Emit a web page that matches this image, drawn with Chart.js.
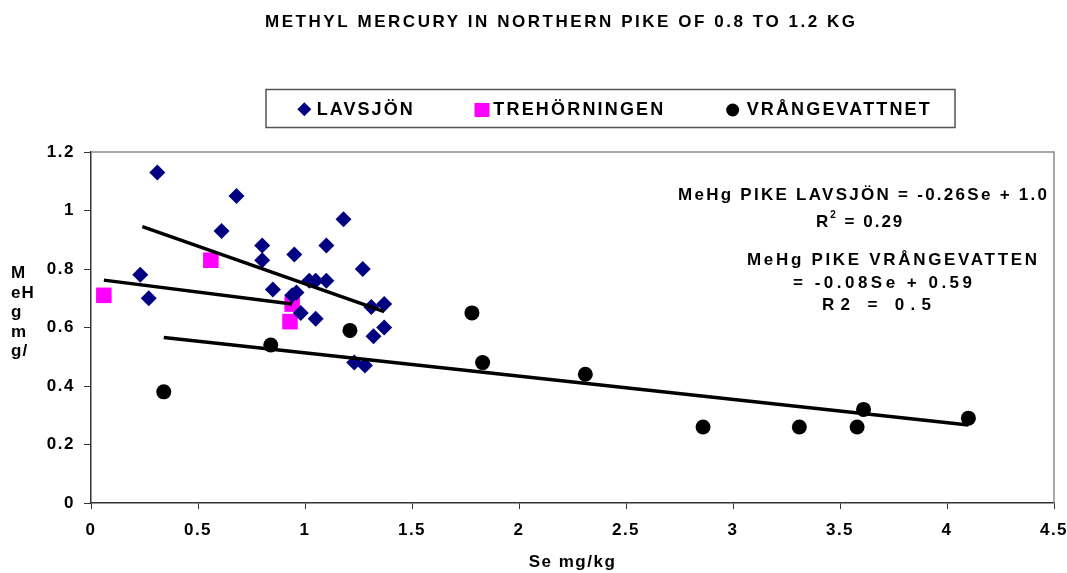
<!DOCTYPE html>
<html>
<head>
<meta charset="utf-8">
<script src="https://cdn.jsdelivr.net/npm/chart.js@4"></script>
<style>
  html, body { margin: 0; padding: 0; background: #fff; }
  #wrap { width: 1067px; height: 573px; }
</style>
</head>
<body>
<div id="wrap"><canvas id="chart" width="1067" height="573"></canvas></div>
<script>
// Data (Se mg/kg, MeHg mg/kg)
const lavsjonSe   = [0.31, 0.68, 0.61, 1.18, 0.80, 0.80, 0.95, 1.10, 1.27, 0.23, 0.27, 0.85, 0.96, 0.94, 1.02, 1.05, 1.10, 0.98, 1.05, 1.31, 1.37, 1.37, 1.32, 1.23, 1.28];
const lavsjonMeHg = [1.13, 1.05, 0.93, 0.97, 0.88, 0.83, 0.85, 0.88, 0.80, 0.78, 0.70, 0.73, 0.72, 0.71, 0.76, 0.76, 0.76, 0.65, 0.63, 0.67, 0.68, 0.60, 0.57, 0.48, 0.47];

const trehSe   = [0.06, 0.56, 0.94, 0.93];
const trehMeHg = [0.71, 0.83, 0.68, 0.62];

const vrangSe   = [0.34, 0.84, 1.21, 1.78, 1.83, 2.31, 2.86, 3.31, 3.58, 3.61, 4.10];
const vrangMeHg = [0.38, 0.54, 0.59, 0.65, 0.48, 0.44, 0.26, 0.26, 0.26, 0.32, 0.29];

// trendline end points
const lavsjonTrendSe   = [0.24, 1.37];
const lavsjonTrendMeHg = [0.945, 0.654];
const trehTrendSe      = [0.06, 0.94];
const trehTrendMeHg    = [0.762, 0.68];
const vrangTrendSe     = [0.34, 4.10];
const vrangTrendMeHg   = [0.566, 0.267];

const xTickValues = [0, 0.5, 1, 1.5, 2, 2.5, 3, 3.5, 4, 4.5];
const yTickValues = [0, 0.2, 0.4, 0.6, 0.8, 1, 1.2];

const chartTitle = 'METHYL MERCURY IN NORTHERN PIKE OF 0.8 TO 1.2 KG';
const legendNames = ['LAVSJÖN', 'TREHÖRNINGEN', 'VRÅNGEVATTNET'];
const yAxisTitle = ['M', 'eH', 'g', 'm', 'g/'];
const xAxisTitle = 'Se mg/kg';

const FONT = '"Liberation Sans", Arial, sans-serif';

function pairs(xs, ys) {
  return xs.map((x, i) => ({ x: x, y: ys[i] }));
}

// draw text stretched with letter spacing to a given visible width
function spacedText(ctx, text, x, y, width) {
  ctx.letterSpacing = '0px';
  const w = ctx.measureText(text).width;
  const sp = text.length > 1 ? (width - w) / (text.length - 1) : 0;
  ctx.letterSpacing = sp + 'px';
  ctx.fillText(text, x, y);
  ctx.letterSpacing = '0px';
}

const overlay = {
  id: 'overlay',
  beforeDraw(chart) {
    chart.ctx.letterSpacing = '1.5px';
  },
  afterDraw(chart) {
    const ctx = chart.ctx;
    const { left, top, right, bottom } = chart.chartArea;
    ctx.save();
    ctx.letterSpacing = '0px';

    // grey frame on top and right of the plot
    ctx.strokeStyle = '#8c8c8c';
    ctx.lineWidth = 1.5;
    ctx.beginPath();
    ctx.moveTo(left, top);
    ctx.lineTo(right, top);
    ctx.lineTo(right, bottom);
    ctx.stroke();

    ctx.fillStyle = '#000';
    ctx.textBaseline = 'middle';
    ctx.textAlign = 'left';

    // title
    ctx.font = 'bold 17px ' + FONT;
    spacedText(ctx, chartTitle, 265, 22, 590);

    // legend box
    ctx.strokeStyle = '#555';
    ctx.lineWidth = 1.5;
    ctx.strokeRect(266, 89.5, 689, 38);

    ctx.fillStyle = '#000080';
    ctx.beginPath();
    ctx.moveTo(304.3, 102.3);
    ctx.lineTo(311.3, 109.3);
    ctx.lineTo(304.3, 116.3);
    ctx.lineTo(297.3, 109.3);
    ctx.closePath();
    ctx.fill();

    ctx.fillStyle = '#ff00ff';
    ctx.fillRect(474.5, 103, 15, 14);

    ctx.fillStyle = '#000';
    ctx.beginPath();
    ctx.arc(732.7, 110, 6.5, 0, Math.PI * 2);
    ctx.fill();

    ctx.font = 'bold 18px ' + FONT;
    spacedText(ctx, legendNames[0], 316.7, 110, 96);
    spacedText(ctx, legendNames[1], 493.3, 110, 170);
    spacedText(ctx, legendNames[2], 746.7, 110, 183);

    // stacked y-axis title
    ctx.textBaseline = 'alphabetic';
    ctx.font = 'bold 17px ' + FONT;
    yAxisTitle.forEach((t, i) => {
      ctx.letterSpacing = '1px';
      ctx.fillText(t, 11, 278 + i * 19.6);
    });
    ctx.letterSpacing = '0px';

    // regression notes
    ctx.textBaseline = 'middle';
    ctx.font = 'bold 17px ' + FONT;
    spacedText(ctx, 'MeHg PIKE LAVSJÖN = -0.26Se + 1.0', 678, 195, 369);

    // R² with raised 2
    ctx.letterSpacing = '2px';
    ctx.fillText('R', 816, 222);
    let rw = ctx.measureText('R').width;
    ctx.font = 'bold 10px ' + FONT;
    ctx.fillText('2', 816 + rw, 215);
    rw += ctx.measureText('2').width;
    ctx.font = 'bold 17px ' + FONT;
    ctx.fillText(' = 0.29', 816 + rw, 222);
    ctx.letterSpacing = '0px';

    spacedText(ctx, 'MeHg PIKE VRÅNGEVATTEN', 747, 260, 290);
    spacedText(ctx, '= -0.08Se + 0.59', 793, 283, 179);
    spacedText(ctx, 'R2 = 0.5', 822, 305, 109);

    ctx.restore();
  }
};

Chart.defaults.color = '#000';

new Chart(document.getElementById('chart'), {
  type: 'scatter',
  data: {
    datasets: [
      {
        label: 'trend lavsjon',
        data: pairs(lavsjonTrendSe, lavsjonTrendMeHg),
        showLine: true, pointRadius: 0, borderColor: '#000', borderWidth: 3.5, order: 0
      },
      {
        label: 'trend treh',
        data: pairs(trehTrendSe, trehTrendMeHg),
        showLine: true, pointRadius: 0, borderColor: '#000', borderWidth: 3.5, order: 0
      },
      {
        label: 'trend vrang',
        data: pairs(vrangTrendSe, vrangTrendMeHg),
        showLine: true, pointRadius: 0, borderColor: '#000', borderWidth: 3.5, order: 0
      },
      {
        label: legendNames[0],
        data: pairs(lavsjonSe, lavsjonMeHg),
        pointStyle: 'rectRot', pointRadius: 8,
        backgroundColor: '#000080', borderColor: '#000080', borderWidth: 0, order: 1
      },
      {
        label: legendNames[1],
        data: pairs(trehSe, trehMeHg),
        pointStyle: 'rect', pointRadius: 11,
        backgroundColor: '#ff00ff', borderColor: '#ff00ff', borderWidth: 0, order: 1
      },
      {
        label: legendNames[2],
        data: pairs(vrangSe, vrangMeHg),
        pointStyle: 'circle', pointRadius: 7.5,
        backgroundColor: '#000', borderColor: '#000', borderWidth: 0, order: 1
      }
    ]
  },
  options: {
    responsive: false,
    animation: false,
    layout: { padding: { top: 152, right: 13, bottom: 0, left: 0 } },
    plugins: {
      legend: { display: false },
      title: { display: false },
      tooltip: { enabled: false }
    },
    scales: {
      x: {
        type: 'linear',
        min: 0,
        max: 4.5,
        afterBuildTicks: (scale) => { scale.ticks = xTickValues.map(v => ({ value: v })); },
        afterFit: (scale) => {
          scale.height = 70;
          scale.paddingLeft = 0;
          scale.paddingRight = 0;
        },
        ticks: {
          font: { family: FONT, size: 17, weight: 'bold' },
          color: '#000',
          padding: 11,
          maxRotation: 0,
          callback: (v) => String(v)
        },
        grid: { drawOnChartArea: false, drawTicks: true, tickLength: 6, color: '#333' },
        border: { color: '#333', width: 1.5 },
        title: {
          display: true,
          text: xAxisTitle,
          font: { family: FONT, size: 17, weight: 'bold' },
          color: '#000',
          padding: { top: 0, bottom: 0 }
        }
      },
      y: {
        type: 'linear',
        min: 0,
        max: 1.2,
        afterBuildTicks: (scale) => { scale.ticks = yTickValues.map(v => ({ value: v })); },
        afterFit: (scale) => {
          scale.width = 91;
          scale.paddingTop = 0;
          scale.paddingBottom = 0;
        },
        ticks: {
          font: { family: FONT, size: 17, weight: 'bold' },
          color: '#000',
          padding: 9,
          callback: (v) => String(v)
        },
        grid: { drawOnChartArea: false, drawTicks: true, tickLength: 7, color: '#333' },
        border: { color: '#333', width: 1.5 }
      }
    }
  },
  plugins: [overlay]
});
</script>
</body>
</html>
